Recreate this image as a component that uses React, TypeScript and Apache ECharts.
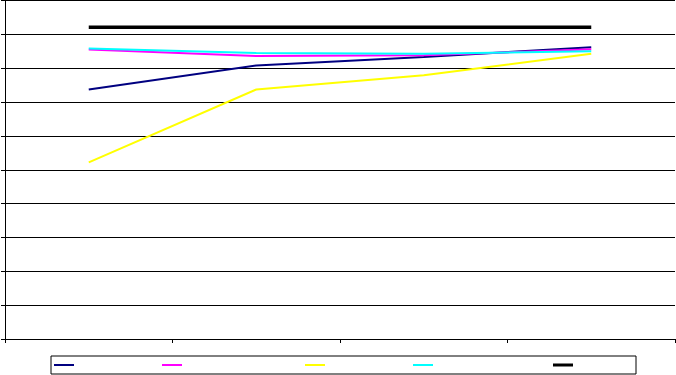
import React, { useEffect, useRef } from "react";
import * as echarts from "echarts";

const categories = ["1", "2", "3", "4"];
const seriesNames = ["S1", "S2", "S3", "S4", "S5"];
const navyValues = [73.7, 80.8, 83.3, 86.2];
const magentaValues = [85.5, 83.6, 83.8, 85.6];
const yellowValues = [52.2, 73.7, 77.9, 84.3];
const cyanValues = [85.8, 84.5, 84.3, 85.0];
const blackValues = [92.1, 92.1, 92.1, 92.1];

const colors = ["#000080", "#FF00FF", "#FFFF00", "#00FFFF", "#000000"];
const widths = [2, 2, 2, 2, 3.5];
const legendLefts = [54, 162, 305, 413, 553];

export default function App() {
  const ref = useRef<HTMLDivElement>(null);
  useEffect(() => {
    if (!ref.current) return;
    const chart = echarts.init(ref.current, null, { renderer: "svg" });
    const values = [navyValues, magentaValues, yellowValues, cyanValues, blackValues];
    chart.setOption({
      animation: false,
      backgroundColor: "#ffffff",
      grid: { left: 5, right: 1, top: 0.5, bottom: 36, containLabel: false },
      xAxis: {
        type: "category",
        data: categories,
        boundaryGap: true,
        axisLine: { show: true, lineStyle: { color: "#000", width: 1 } },
        axisTick: { show: true, length: 4, lineStyle: { color: "#000" } },
        axisLabel: { show: false },
        splitLine: { show: false },
      },
      yAxis: {
        type: "value",
        min: 0,
        max: 100,
        interval: 10,
        axisLine: { show: true, lineStyle: { color: "#000", width: 1 } },
        axisTick: { show: true, length: 4, lineStyle: { color: "#000" } },
        axisLabel: { show: false },
        splitLine: { show: true, lineStyle: { color: "#000", width: 1 } },
      },
      legend: seriesNames.map((n, i) => ({
        data: [n],
        left: legendLefts[i],
        top: i === 4 ? 363.5 : 364,
        padding: 0,
        itemWidth: 20,
        itemHeight: i === 4 ? 3 : 2,
        icon: "rect",
        formatter: () => "",
        textStyle: { fontSize: 1 },
        selectedMode: false,
      })),
      graphic: [
        {
          type: "rect",
          shape: { x: 51, y: 356, width: 585, height: 18 },
          style: { fill: "none", stroke: "#000", lineWidth: 1 },
          silent: true,
        },
      ],
      series: seriesNames.map((n, i) => ({
        name: n,
        type: "line",
        data: values[i],
        symbol: "none",
        color: colors[i],
        lineStyle: { color: colors[i], width: widths[i] },
        itemStyle: { color: colors[i] },
      })),
    });
    return () => chart.dispose();
  }, []);
  return <div ref={ref} style={{ width: 676, height: 375, position: "fixed", left: 0, top: 0 }} />;
}
